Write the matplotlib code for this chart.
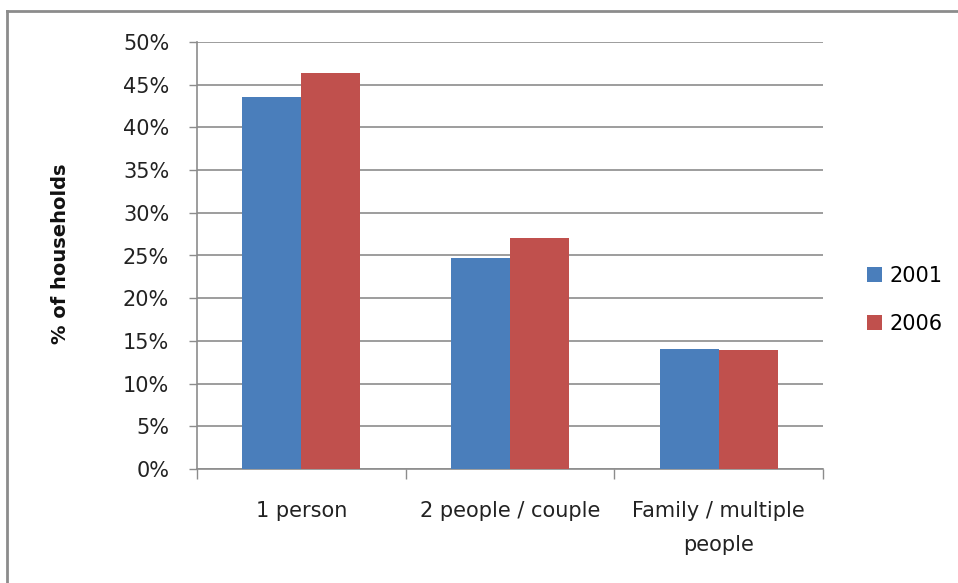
import numpy as np
import matplotlib.pyplot as plt
from matplotlib.lines import Line2D
from matplotlib.ticker import PercentFormatter

categories = ["1 person", "2 people / couple", "Family / multiple\npeople"]
years = ["2001", "2006"]
values_2001 = [43.6, 24.7, 14.05]
values_2006 = [46.4, 27.0, 13.9]
colors = ["#4a7ebb", "#c0504d"]

plt.rcParams['font.family'] = ['DejaVu Sans']

W, H = 958, 583
fig = plt.figure(figsize=(W / 100, H / 100), dpi=100)
ax = fig.add_axes([197 / W, 1 - 469 / H, (823 - 197) / W, (469 - 42) / H])

x = np.arange(len(categories))
width = 0.283
ax.bar(x - width / 2, values_2001, width, color=colors[0], label=years[0], zorder=3)
ax.bar(x + width / 2, values_2006, width, color=colors[1], label=years[1], zorder=3)

ax.set_xlim(-0.5, len(categories) - 0.5)
ax.set_ylim(0, 50)
ax.set_yticks(np.arange(0, 51, 5))
ax.yaxis.set_major_formatter(PercentFormatter(decimals=0))
ax.yaxis.grid(True, color="#8c8c8c", linewidth=1.2, zorder=0)
ax.set_axisbelow(True)

# category ticks sit between groups, labels centred under groups
ax.set_xticks(np.arange(-0.5, len(categories), 1.0))
ax.set_xticklabels([])
ax.set_xticks(x, minor=True)
ax.set_xticklabels(categories, minor=True, linespacing=1.85)
ax.tick_params(axis='x', which='minor', length=0, pad=23, labelsize=15, colors="#222222")
ax.tick_params(axis='x', which='major', length=7, width=1, color="#8c8c8c", direction='out')
ax.tick_params(axis='y', length=6, width=1, color="#8c8c8c", pad=14, labelsize=15, labelcolor="#222222")

for side in ["top", "right"]:
    ax.spines[side].set_visible(False)
for side in ["left", "bottom"]:
    ax.spines[side].set_color("#8c8c8c")
    ax.spines[side].set_linewidth(1.2)

ax.set_ylabel("% of households", fontsize=14, fontweight='bold', color="#111111")
ax.yaxis.set_label_coords(-127 / 626, 0.505)

ax.legend(loc='center left', bbox_to_anchor=(1.04, 0.396), frameon=False,
          fontsize=15, handlelength=0.75, handleheight=0.75, handletextpad=0.35,
          labelspacing=1.35)

# outer chart border
fig.add_artist(Line2D([7 / W, 7 / W], [0, 1 - 11 / H], color="#8c8c8c", linewidth=2))
fig.add_artist(Line2D([7 / W, 1], [1 - 11 / H, 1 - 11 / H], color="#8c8c8c", linewidth=2))

fig.savefig("out.png", dpi=100)
